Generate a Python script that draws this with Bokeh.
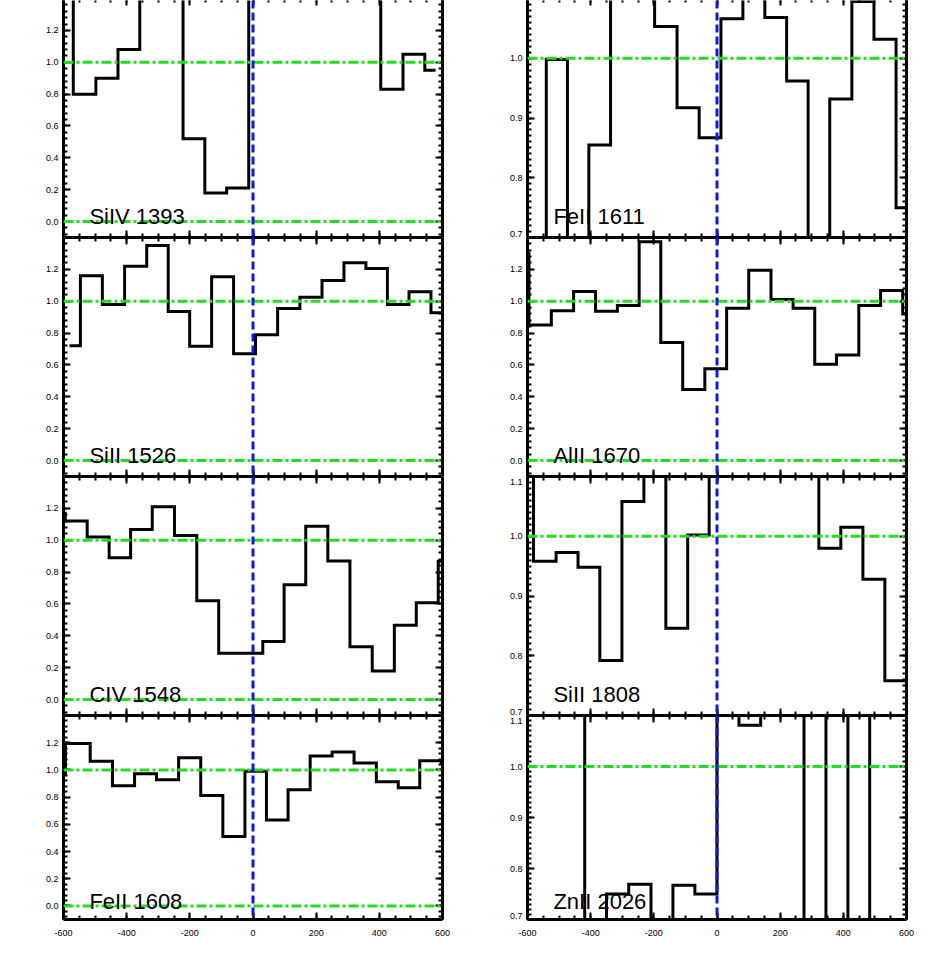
import numpy as np
from bokeh.plotting import figure
from bokeh.models import Range1d, LinearAxis, FixedTicker, PrintfTickFormatter, Span, Label
from bokeh.layouts import column, row
from bokeh.embed import file_html
from bokeh.resources import INLINE

# ---------------- data (velocity bin centres in km/s, normalised flux) ----------------
names_left = ["SiIV 1393", "SiII 1526", "CIV 1548", "FeII 1608"]
names_right = ["FeII 1611", "AlII 1670", "SiII 1808", "ZnII 2026"]

siiv1393_v = [-605, -533, -462, -393, -324, -256, -187, -118, -49, 22, 91, 161, 230, 300, 369, 440, 510, 578]
siiv1393_f = [1.50, 0.80, 0.90, 1.08, 1.55, 1.62, 0.52, 0.18, 0.21, 1.48, 1.70, 1.58, 1.52, 1.66, 1.45, 0.83, 1.05, 0.95]

siii1526_v = [-581, -512, -442, -371, -302, -235, -166, -96, -27, 43, 113, 184, 253, 323, 392, 459, 529, 598]
siii1526_f = [0.72, 1.16, 0.98, 1.22, 1.35, 0.935, 0.717, 1.153, 0.671, 0.79, 0.954, 1.025, 1.13, 1.241, 1.205, 0.979, 1.059, 0.927]

civ1548_v = [-629, -560, -490, -421, -354, -284, -213, -143, -74, -3, 65, 132, 202, 272, 342, 413, 482, 552, 621]
civ1548_f = [1.17, 1.12, 1.02, 0.89, 1.067, 1.21, 1.03, 0.62, 0.29, 0.29, 0.364, 0.72, 1.088, 0.87, 0.331, 0.18, 0.467, 0.607, 0.868]

feii1608_v = [-637, -551, -480, -410, -340, -271, -200, -131, -60, 9, 76, 146, 216, 285, 355, 426, 494, 562, 631]
feii1608_f = [0.976, 1.194, 1.063, 0.883, 0.971, 0.927, 1.09, 0.811, 0.51, 0.99, 0.631, 0.854, 1.102, 1.131, 1.051, 0.913, 0.869, 1.068, 1.05]

feii1611_v = [-574, -507, -440, -371.5, -302.5, -233, -162, -91, -22, 47, 117, 186, 255, 322, 392, 462, 532, 602]
feii1611_f = [0.62, 0.998, 0.58, 0.855, 1.16, 1.19, 1.053, 0.917, 0.867, 1.066, 1.14, 1.068, 0.962, 0.64, 0.932, 1.095, 1.032, 0.75]

alii1670_v = [-631, -560, -489, -419, -350, -281, -212, -144, -73, -4, 65, 136, 206, 276, 343, 414, 484, 552, 624]
alii1670_f = [1.30, 0.851, 0.941, 1.061, 0.937, 0.973, 1.373, 0.741, 0.446, 0.577, 0.956, 1.194, 1.011, 0.956, 0.604, 0.663, 0.973, 1.067, 0.92]

siii1808_v = [-617, -545, -474, -406, -336, -266, -197, -127, -58.6, 9, 79, 148, 218, 288, 357, 427, 497, 566, 636]
siii1808_f = [1.16, 0.958, 0.973, 0.948, 0.792, 1.058, 1.17, 0.846, 1.002, 1.15, 1.2, 1.18, 1.14, 1.13, 0.98, 1.015, 0.928, 0.758, 0.76]

znii2026_v = [-592, -522, -453, -384.7, -315, -244, -174, -105, -35, 35, 104, 172.5, 241, 310, 380, 449, 518, 587]
znii2026_f = [1.22, 1.3, 1.18, 0.55, 0.750, 0.769, 0.6, 0.767, 0.750, 1.25, 1.081, 1.2, 1.3, 0.5, 1.35, 0.45, 1.4, 1.3]

left_data = [(siiv1393_v, siiv1393_f), (siii1526_v, siii1526_f), (civ1548_v, civ1548_f), (feii1608_v, feii1608_f)]
right_data = [(feii1611_v, feii1611_f), (alii1670_v, alii1670_f), (siii1808_v, siii1808_f), (znii2026_v, znii2026_f)]
right_narrow = [True, False, True, True]

x_major = [-600, -400, -200, 0, 200, 400, 600]
wide_major = [0.0, 0.2, 0.4, 0.6, 0.8, 1.0, 1.2]
narrow_major = [0.7, 0.8, 0.9, 1.0, 1.1]

# ---------------- styling ----------------
FONT = "Liberation Sans"
GREEN = "#22dd22"
BLUE = "#1414e6"
FRAME_W = 379
ROW_H = [237, 239, 239, 204]
LBL = "9px"

x_minor = list(np.arange(-600, 601, 50))
wide_minor = [round(v, 2) for v in np.arange(-0.08, 1.41, 0.04)]
narrow_minor = [round(v, 2) for v in np.arange(0.7, 1.1001, 0.01)]


def style_axis(ax, labels, standoff=5, tick_in=7, minor_in=4, line=True):
    ax.axis_line_width = 3
    ax.axis_line_color = "black" if line else None
    ax.major_tick_in = tick_in
    ax.major_tick_out = 0
    ax.minor_tick_in = minor_in
    ax.minor_tick_out = 0
    ax.major_tick_line_width = 2
    ax.minor_tick_line_width = 2
    ax.major_tick_line_color = "black" if tick_in > 0 else None
    ax.minor_tick_line_color = "black" if minor_in > 0 else None
    if labels:
        ax.major_label_text_font = FONT
        ax.major_label_text_font_size = LBL
        ax.major_label_text_color = "black"
        ax.major_label_standoff = standoff
    else:
        ax.major_label_text_font_size = "0px"
        ax.major_label_text_color = None
        ax.major_label_standoff = 0
    return ax


def panel(vel, flux, name, narrow, row_i, right_col):
    frame_h = ROW_H[row_i]
    if narrow:
        ylo, scale, yhi = 0.7, 597.5, 1.1
        ymaj, ymin_t = narrow_major, narrow_minor
    else:
        ylo, scale, yhi = -0.1, 159.3, 1.4
        ymaj, ymin_t = wide_major, wide_minor
    if row_i == 0:
        yhi = ylo + frame_h / scale
    p = figure(frame_width=FRAME_W, frame_height=frame_h,
               x_range=Range1d(-600, 600), y_range=Range1d(ylo, yhi),
               x_axis_type=None, y_axis_type=None,
               output_backend="svg", toolbar_location=None,
               min_border_left=73 if right_col else 63,
               min_border_right=12,
               min_border_top=0,
               min_border_bottom=24 if row_i == 3 else 0)
    p.outline_line_color = None
    p.background_fill_color = "white"
    p.border_fill_color = "white"

    if narrow:
        # inner left axis: line and ticks only
        yl = LinearAxis(ticker=FixedTicker(ticks=ymaj, minor_ticks=ymin_t))
        p.add_layout(style_axis(yl, False), "left")
        # outer left axis: labels only; the end labels (0.7 / 1.1) sit just inside the panel height
        px_per_unit = frame_h / (yhi - ylo)
        lab_pos = [narrow_major[0] + 4.0 / px_per_unit] + narrow_major[1:-1]
        if yhi >= narrow_major[-1]:
            lab_pos.append(narrow_major[-1] - 5.5 / px_per_unit)
        ylab = LinearAxis(ticker=FixedTicker(ticks=lab_pos, minor_ticks=[]),
                          formatter=PrintfTickFormatter(format="%.1f"))
        p.add_layout(style_axis(ylab, True, 5, tick_in=0, minor_in=0, line=False), "left")
    else:
        yl = LinearAxis(ticker=FixedTicker(ticks=ymaj, minor_ticks=ymin_t),
                        formatter=PrintfTickFormatter(format="%.1f"))
        p.add_layout(style_axis(yl, True, 5), "left")
    yr = LinearAxis(ticker=FixedTicker(ticks=ymaj, minor_ticks=ymin_t))
    p.add_layout(style_axis(yr, False), "right")
    xb = LinearAxis(ticker=FixedTicker(ticks=x_major, minor_ticks=x_minor),
                    formatter=PrintfTickFormatter(format="%d"))
    p.add_layout(style_axis(xb, row_i == 3, 10), "below")
    xa = LinearAxis(ticker=FixedTicker(ticks=x_major, minor_ticks=x_minor))
    if row_i > 0:
        p.add_layout(style_axis(xa, False), "above")
    else:
        p.add_layout(style_axis(xa, False, tick_in=5, minor_in=2, line=False), "above")

    p.step(x=vel, y=flux, mode="center", line_color="black", line_width=3, line_join="miter")

    p.add_layout(Span(location=1.0, dimension="width", line_color=GREEN, line_width=3, line_dash="10 3 3 3"))
    if not narrow:
        p.add_layout(Span(location=0.0, dimension="width", line_color=GREEN, line_width=3, line_dash="10 3 3 3"))
    p.add_layout(Span(location=0.0, dimension="height", line_color=BLUE, line_width=3, line_dash="8 4"))

    p.add_layout(Label(x=-518, y=ylo, y_offset=18 if row_i == 3 else 21, text=name,
                       text_font=FONT, text_font_size="22px", text_color="black",
                       text_baseline="alphabetic"))
    return p


rows = []
for i in range(4):
    lv, lf = left_data[i]
    rv, rf = right_data[i]
    pl = panel(lv, lf, names_left[i], False, i, False)
    pr = panel(rv, rf, names_right[i], right_narrow[i], i, True)
    rows.append(row(pl, pr, spacing=0))

root = column(*rows, spacing=0)
open("out.html", "w").write(file_html(root, INLINE))
